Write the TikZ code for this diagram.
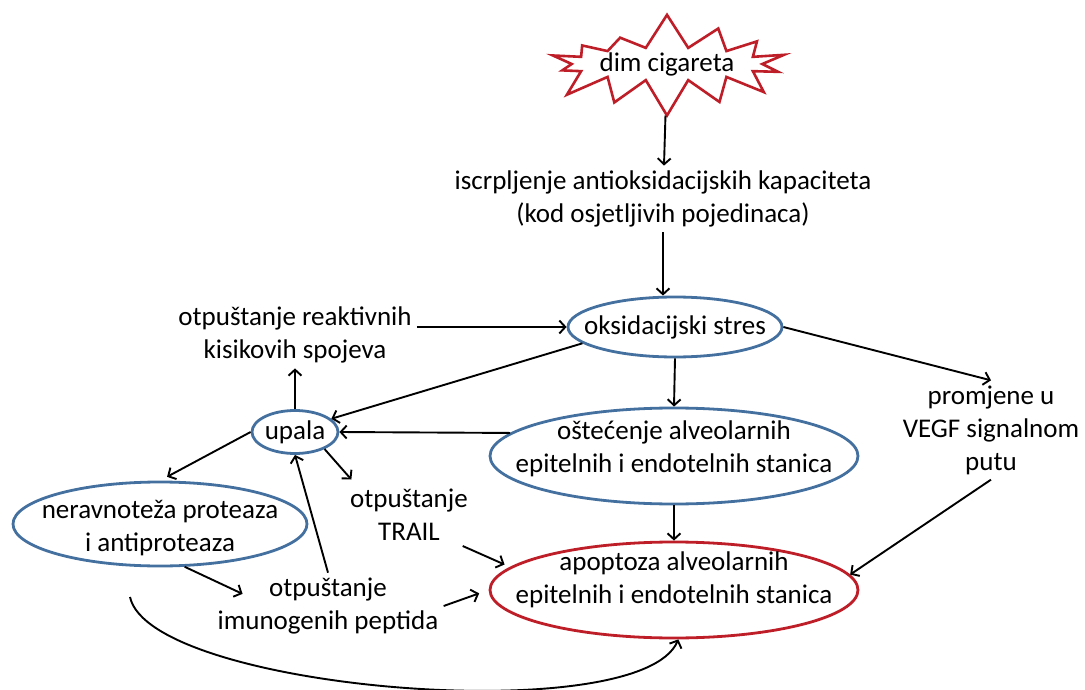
\documentclass[tikz,border=0pt]{standalone}
\usepackage{fontspec}
\setmainfont{Carlito}
\usetikzlibrary{shapes.geometric,shapes.symbols,arrows.meta,calc}
\definecolor{elblue}{RGB}{68,112,160}
\definecolor{elred}{RGB}{190,30,40}
\begin{document}
\begin{tikzpicture}[x=1pt,y=-1pt,
  font=\fontsize{27}{33}\selectfont,
  txt/.style={align=center,inner sep=5pt},
  blueell/.style={draw=elblue,line width=2.8pt,ellipse,inner sep=0pt},
  redell/.style={draw=elred,line width=2.8pt,ellipse,inner sep=0pt},
  lbl/.style={label={[align=center]center:{#1}}},
  arr/.style={-{Straight Barb[length=6pt,width=13pt]},line width=1.9pt},
  every edge/.style={draw,arr}]
\useasboundingbox (0,0) rectangle (1085,690);

\node (dim) at (667,64) [starburst,starburst points=14,starburst point height=36pt,
  random starburst=7,draw=elred,line width=2.6pt,inner sep=0pt,
  minimum width=240pt,minimum height=102pt] {dim cigareta};
\node (isc) at (663,199) [txt] {iscrpljenje antioksidacijskih kapaciteta\\(kod osjetljivih pojedinaca)};
\node (oks) at (675,327) [blueell,minimum width=214pt,minimum height=60pt,lbl={oksidacijski stres}] {};
\node (rkt) at (295,335) [txt] {otpuštanje reaktivnih\\kisikovih spojeva};
\node (upala) at (295,432) [blueell,minimum width=86pt,minimum height=43pt,lbl={upala}] {};
\node (ost) at (674,456) [blueell,minimum width=368pt,minimum height=96pt,
  label={[align=center,yshift=7pt]center:{oštećenje alveolarnih\\epitelnih i endotelnih stanica}}] {};
\node (vegf) at (991,430) [txt] {promjene u\\VEGF signalnom\\putu};
\node (nera) at (160,524) [blueell,minimum width=294pt,minimum height=84pt,
  label={[align=center,yshift=-4pt]center:{neravnoteža proteaza\\i antiproteaza}}] {};
\node (trail) at (409,515) [txt] {otpuštanje\\TRAIL};
\node (imun) at (328,606) [txt] {otpuštanje\\imunogenih peptida};
\node (apop) at (674,590) [redell,minimum width=368pt,minimum height=96pt,
  label={[align=center,yshift=10pt]center:{apoptoza alveolarnih\\epitelnih i endotelnih stanica}}] {};
\coordinate (cstart) at (130,597);

\path
(dim) edge (isc)
(isc.south) edge (isc.south |- oks.north)
(rkt.east |- oks.west) edge (oks.west)
(oks.190) edge (upala.20)
(upala.north) edge (rkt.south)
(oks.south) edge (ost.north)
(oks.east) edge (vegf.north)
(ost.172) edge (upala.east)
(ost.south) edge (apop.north)
(vegf.south) edge (apop.5)
(imun.north) edge (upala.south);
\draw[arr,shorten >=8pt] (upala.west) to (nera.north);
\draw[arr,shorten >=6pt] (upala.-30) to (trail.150);
\draw[arr,shorten >=6pt] (trail.-30) to (apop.172);
\draw[arr,shorten >=5pt] (nera.-60) to ($(imun.west)!.3!(imun.north)$);
\draw[arr,shorten >=10pt] (imun.east) to (apop.west);
\draw[arr] (cstart) .. controls (150,690) and (640,730) .. (apop.-85);
\end{tikzpicture}
\end{document}
